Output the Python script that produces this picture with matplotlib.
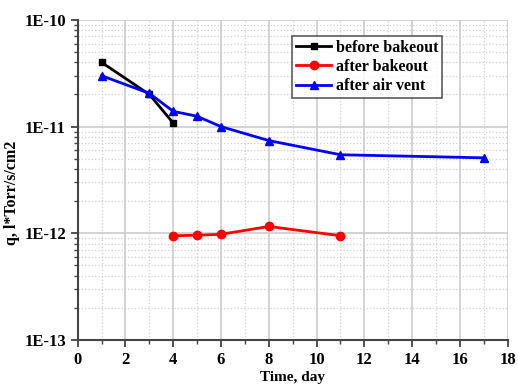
import matplotlib
matplotlib.use("Agg")
import matplotlib.pyplot as plt
from matplotlib.ticker import FixedLocator, LogLocator, NullFormatter, FixedFormatter

plt.rcParams['font.family'] = ['Liberation Serif', 'DejaVu Serif']
plt.rcParams['font.weight'] = 'bold'

# === Data ===
before_day = [1, 3, 4]
before_q = [4.0e-11, 2.0e-11, 1.08e-11]

after_bake_day = [4, 5, 6, 8, 11]
after_bake_q = [0.95e-12, 0.96e-12, 0.98e-12, 1.16e-12, 0.95e-12]

after_vent_day = [1, 3, 4, 5, 6, 8, 11, 17]
after_vent_q = [3.0e-11, 2.05e-11, 1.39e-11, 1.25e-11, 1.0e-11, 7.4e-12, 5.45e-12, 5.1e-12]

x_ticks = [0, 2, 4, 6, 8, 10, 12, 14, 16, 18]
y_ticks = [1e-13, 1e-12, 1e-11, 1e-10]
y_labels = ["1E-13", "1E-12", "1E-11", "1E-10"]

fig = plt.figure(figsize=(5.18, 3.9), dpi=100)
ax = fig.add_axes([0.15, 0.128, 0.83, 0.821])

ax.plot(before_day, before_q, color="black", marker="s", markersize=5, linewidth=2, label="before bakeout")
ax.plot(after_bake_day, after_bake_q, color="red", marker="o", markersize=6, linewidth=2, label="after bakeout")
ax.plot(after_vent_day, after_vent_q, color="blue", marker="^", markersize=6, linewidth=2, label="after air vent")

ax.set_yscale("log")
ax.set_xlim(0, 18)
ax.set_ylim(1e-13, 1e-10)

ax.xaxis.set_major_locator(FixedLocator(x_ticks))
ax.xaxis.set_minor_locator(FixedLocator(range(1, 18, 2)))
ax.yaxis.set_major_locator(FixedLocator(y_ticks))
ax.yaxis.set_major_formatter(FixedFormatter(y_labels))
ax.yaxis.set_minor_locator(LogLocator(base=10, subs=range(2, 10)))
ax.yaxis.set_minor_formatter(NullFormatter())

ax.grid(True, which="major", color="#cccccc", linewidth=1.2)
ax.grid(True, which="minor", color="#d0d0d0", linestyle=":", linewidth=0.9)
ax.set_axisbelow(True)

for side in ["top", "right"]:
    ax.spines[side].set_visible(False)
for side in ["left", "bottom"]:
    ax.spines[side].set_color("#444444")
    ax.spines[side].set_linewidth(1.5)

ax.tick_params(which="major", direction="out", length=5, width=1.3, color="#444444", labelsize=12)
ax.tick_params(which="minor", direction="out", length=3, width=1, color="#444444")
for lbl in ax.get_xticklabels() + ax.get_yticklabels():
    lbl.set_fontweight("bold")

ax.set_xlabel("Time, day", fontsize=11, fontweight="bold", labelpad=2)
ax.set_ylabel("q, l*Torr/s/cm2", fontsize=11.5, fontweight="bold")
ax.yaxis.set_label_coords(-0.135, 0.46)

leg = ax.legend(loc="upper left", bbox_to_anchor=(0.48, 0.975), fontsize=11.5,
                frameon=True, fancybox=False, edgecolor="#333333",
                handlelength=2.2, borderpad=0.25, labelspacing=0.2, handletextpad=0.3)
leg.get_frame().set_linewidth(1.2)
for t in leg.get_texts():
    t.set_fontweight("bold")

plt.savefig("out.png", dpi=100)
